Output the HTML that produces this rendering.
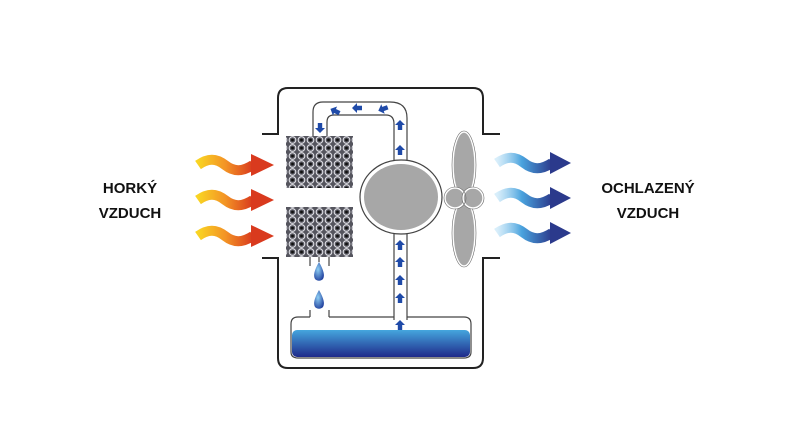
<!DOCTYPE html>
<html><head><meta charset="utf-8"><style>
html,body{margin:0;padding:0;background:#fff;width:800px;height:437px;overflow:hidden}
svg{display:block}
text{font-family:"Liberation Sans",sans-serif;font-weight:bold;font-size:15px;fill:#111}
</style></head><body>
<svg width="800" height="437" viewBox="0 0 800 437" xmlns="http://www.w3.org/2000/svg">
<defs>
<linearGradient id="hot" x1="0" x2="1" y1="0" y2="0"><stop offset="0" stop-color="#f9d423"/><stop offset="0.5" stop-color="#f39325"/><stop offset="1" stop-color="#d93a1e"/></linearGradient>
<linearGradient id="cold" x1="0" x2="1" y1="0" y2="0"><stop offset="0" stop-color="#bfe3f7" stop-opacity="0.6"/><stop offset="0.45" stop-color="#4aa3de"/><stop offset="1" stop-color="#2b3a8c"/></linearGradient>
<linearGradient id="water" x1="0" x2="0" y1="0" y2="1"><stop offset="0" stop-color="#45a6de"/><stop offset="1" stop-color="#1f2a8a"/></linearGradient>
<radialGradient id="drop" cx="0.4" cy="0.4" r="0.7"><stop offset="0" stop-color="#8fd0f5"/><stop offset="1" stop-color="#1c3a9a"/></radialGradient>
<pattern id="hex" width="9" height="8" patternUnits="userSpaceOnUse">
<rect width="9" height="8" fill="#55555e"/>
<circle cx="4.5" cy="4" r="3.3" fill="none" stroke="#e0e0e6" stroke-width="1.1"/>
<circle cx="4.5" cy="4" r="1.4" fill="#111"/>
</pattern>
<g id="harrow"><path d="M0 0 C10 -7 18 -7 27 0 S44 7 55 0" fill="none" stroke="url(#hot)" stroke-width="10"/><polygon points="53,-11 76,0 53,11" fill="#d93a1e"/></g>
<g id="carrow"><path d="M0 0 C10 -7 18 -7 27 0 S44 7 55 0" fill="none" stroke="url(#cold)" stroke-width="10"/><polygon points="53,-11 74,0 53,11" fill="#2b3a8c"/></g>
<g id="up"><polygon points="0,-5 5,0 2.2,0 2.2,5 -2.2,5 -2.2,0 -5,0" fill="#1f4aa8"/></g>
</defs>

<path d="M262 134 H278 V98 Q278 88 288 88 H473 Q483 88 483 98 V134 H500" fill="none" stroke="#222" stroke-width="2"/>
<path d="M262 258 H278 V358 Q278 368 288 368 H473 Q483 368 483 358 V258 H500" fill="none" stroke="#222" stroke-width="2"/>

<path d="M313 136 V112 Q313 102 323 102 H390 Q407 102 407 118 V165 M327 136 V122 Q327 115 334 115 H386 Q394 115 394 124 V165" fill="none" stroke="#444" stroke-width="1.2"/>
<path d="M394 230 V320 M407 230 V320" fill="none" stroke="#444" stroke-width="1.2"/>
<path d="M310 317 H298 Q291 317 291 324 V352 Q291 358 298 358 H464 Q471 358 471 352 V324 Q471 317 464 317 H407 M394 317 H329" fill="none" stroke="#444" stroke-width="1.2"/>
<path d="M310 317 V310 M329 317 V310" stroke="#444" stroke-width="1.2"/>
<rect x="292" y="330" width="178" height="27" rx="5" fill="url(#water)"/>
<path d="M310 257 V266 M329 257 V266 M319 257 V262" stroke="#444" stroke-width="1.2"/>

<rect x="286" y="136" width="67" height="121" fill="url(#hex)"/>
<rect x="286" y="188" width="67" height="19" fill="#fff"/>

<ellipse cx="401" cy="197" rx="41" ry="37" fill="#fff" stroke="#444" stroke-width="1.2"/>
<ellipse cx="401" cy="197" rx="37" ry="33" fill="#a7a7a7"/>

<use href="#up" x="400" y="150"/><use href="#up" x="400" y="125"/>
<use href="#up" x="400" y="245"/><use href="#up" x="400" y="262"/><use href="#up" x="400" y="280"/><use href="#up" x="400" y="298"/><use href="#up" x="400" y="325"/>
<use href="#up" transform="translate(383,109) rotate(-110)"/>
<use href="#up" transform="translate(357,108) rotate(-90)"/>
<use href="#up" transform="translate(335,111) rotate(-65)"/>
<use href="#up" transform="translate(320,128) rotate(180)"/>

<path d="M319 262 Q326 274 323 279 A5.5 5.5 0 0 1 315 279 Q312 274 319 262Z" fill="url(#drop)"/>
<path d="M319 290 Q326 302 323 307 A5.5 5.5 0 0 1 315 307 Q312 302 319 290Z" fill="url(#drop)"/>

<ellipse cx="464" cy="165" rx="11" ry="33" fill="#a7a7a7" stroke="#fff" stroke-width="1.5"/>
<ellipse cx="464" cy="233" rx="11" ry="33" fill="#a7a7a7" stroke="#fff" stroke-width="1.5"/>
<ellipse cx="464" cy="165" rx="12" ry="34" fill="none" stroke="#666" stroke-width="0.6"/>
<ellipse cx="464" cy="233" rx="12" ry="34" fill="none" stroke="#666" stroke-width="0.6"/>
<circle cx="455" cy="198" r="10" fill="#a7a7a7" stroke="#fff" stroke-width="1.5"/>
<circle cx="473" cy="198" r="10" fill="#a7a7a7" stroke="#fff" stroke-width="1.5"/>
<circle cx="455" cy="198" r="11" fill="none" stroke="#666" stroke-width="0.6"/>
<circle cx="473" cy="198" r="11" fill="none" stroke="#666" stroke-width="0.6"/>

<use href="#harrow" x="198" y="165"/>
<use href="#harrow" x="198" y="200"/>
<use href="#harrow" x="198" y="236"/>
<use href="#carrow" x="497" y="163"/>
<use href="#carrow" x="497" y="198"/>
<use href="#carrow" x="497" y="233"/>

<text x="130" y="193" text-anchor="middle">HORKÝ</text>
<text x="130" y="218" text-anchor="middle">VZDUCH</text>
<text x="648" y="193" text-anchor="middle">OCHLAZENÝ</text>
<text x="648" y="218" text-anchor="middle">VZDUCH</text>
</svg>
</body></html>
